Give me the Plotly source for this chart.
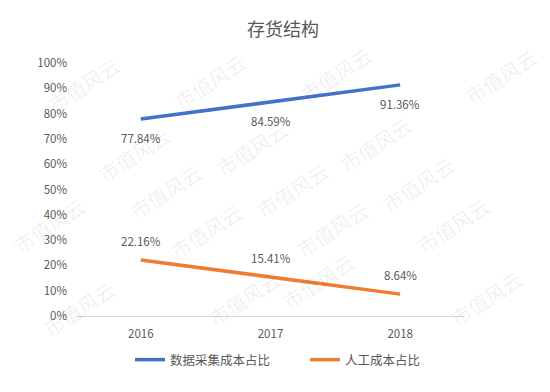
import plotly.graph_objects as go

years = ["2016", "2017", "2018"]
data_cost = [77.84, 84.59, 91.36]
labor_cost = [22.16, 15.41, 8.64]
series_names = ["数据采集成本占比", "人工成本占比"]
title_text = "存货结构"
watermark_text = "市值风云"

W, H = 550, 392
L, R, T, B = 76, 85, 63, 76
pw, ph = W - L - R, H - T - B

def px_to_paper(px, py):
    return (px - L) / pw, (H - B - py) / ph

blue = "#4472C4"
orange = "#ED7D31"
gray = "#595959"
font_family = "Noto Sans CJK SC, Microsoft YaHei, sans-serif"

fig = go.Figure()
fig.add_trace(go.Scatter(x=years, y=data_cost, mode="lines", name=series_names[0],
                         line=dict(color=blue, width=3.5)))
fig.add_trace(go.Scatter(x=years, y=labor_cost, mode="lines", name=series_names[1],
                         line=dict(color=orange, width=3.5)))

annotations = []
# watermark tiles (pixel centers)
wm_positions = [(40, 48), (210, 45), (380, 38), (545, 40),
                (90, 118), (252, 112), (420, 108),
                (122, 192), (292, 190), (462, 184),
                (5, 262), (162, 268), (332, 266), (497, 262),
                (35, 345), (200, 335), (362, 318), (530, 335)]
for (px, py) in wm_positions:
    xp, yp = px_to_paper(px, py)
    annotations.append(dict(x=xp, y=yp, xref="paper", yref="paper", text=watermark_text,
                            showarrow=False, textangle=-33,
                            font=dict(size=20, color="rgba(0,0,0,0.07)", family=font_family)))

for i, v in enumerate(data_cost):
    annotations.append(dict(x=i, y=v, xref="x", yref="y", text=f"{v:.2f}%", showarrow=False, yshift=-19,
                            font=dict(size=11.5, color=gray, family=font_family)))
for i, v in enumerate(labor_cost):
    annotations.append(dict(x=i, y=v, xref="x", yref="y", text=f"{v:.2f}%", showarrow=False, yshift=19,
                            font=dict(size=11.5, color=gray, family=font_family)))

fig.update_layout(
    width=W, height=H,
    margin=dict(l=L, r=R, t=T, b=B),
    paper_bgcolor="white", plot_bgcolor="white",
    font=dict(family=font_family, color=gray, size=11),
    title=dict(text=title_text, x=(283) / W, xanchor="center", y=1 - 30 / H, yanchor="middle",
               font=dict(size=18, color=gray, family=font_family)),
    xaxis=dict(type="category", showgrid=False, showline=True, linecolor="#d9d9d9", linewidth=1,
               ticks="", tickfont=dict(size=11.5, color=gray), range=[-0.5, 2.5],
               ticklabelstandoff=7),
    yaxis=dict(range=[0, 100], dtick=10, ticksuffix="%", showgrid=False, zeroline=False,
               showline=False, ticks="", tickfont=dict(size=11.5, color=gray),
               ticklabelstandoff=8),
    showlegend=True,
    legend=dict(orientation="h", x=px_to_paper(130, 0)[0], xanchor="left",
                y=px_to_paper(0, 360)[1], yanchor="middle",
                font=dict(size=12.5, color=gray), itemwidth=30, entrywidth=130),
    annotations=annotations,
)

fig.write_html("out.html", config={"displayModeBar": False},
               post_script="document.body.style.margin='0';document.body.style.padding='0';")
